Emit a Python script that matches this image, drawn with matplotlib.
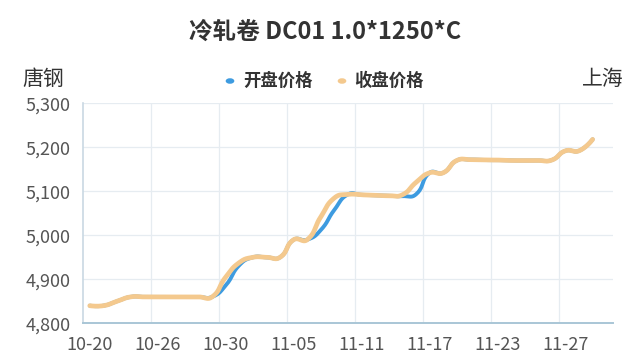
import numpy as np
import matplotlib
matplotlib.use("Agg")
import matplotlib.pyplot as plt
from matplotlib.ticker import FuncFormatter

plt.rcParams['font.family'] = ['Noto Sans CJK SC', 'DejaVu Sans']

# ---------------- data ----------------
title = "冷轧卷 DC01 1.0*1250*C"
left_label = "唐钢"
right_label = "上海"
series_names = ["开盘价格", "收盘价格"]
n_categories = 39
tick_positions = [0, 5, 10, 15, 20, 25, 30, 35]
tick_labels = ["10-20", "10-26", "10-30", "11-05", "11-11", "11-17", "11-23", "11-27"]

close_price = [4840, 4840, 4850, 4860, 4860, 4860, 4860, 4860, 4860, 4860,
               4905, 4938, 4950, 4950, 4950, 4990, 4990, 5042, 5085, 5093,
               5092, 5091, 5090, 5092, 5120, 5142, 5142, 5170, 5172, 5171,
               5171, 5170, 5170, 5170, 5171, 5192, 5192, 5218]
open_price = [4840, 4840, 4850, 4860, 4860, 4860, 4860, 4860, 4860, 4860,
              4886, 4932, 4950, 4950, 4950, 4990, 4990, 5012, 5058, 5093,
              5092, 5091, 5090, 5089, 5093, 5142, 5142, 5170, 5172, 5171,
              5171, 5170, 5170, 5170, 5171, 5192, 5192, 5218]
y_ticks = [4800, 4900, 5000, 5100, 5200, 5300]

colors = {"开盘价格": "#3D9BE0", "收盘价格": "#F4C98E"}

# ---------------- figure ----------------
W, H = 640, 364
fig = plt.figure(figsize=(W / 100, H / 100), dpi=100)
fig.patch.set_facecolor("white")
ax_l, ax_r, ax_t, ax_b = 83, 613, 103.3, 323.3
ax = fig.add_axes([ax_l / W, 1 - ax_b / H, (ax_r - ax_l) / W, (ax_b - ax_t) / H])

xmin, xmax = -0.5, n_categories - 0.5
ymin, ymax = 4800, 5300
ax.set_xlim(xmin, xmax)
ax.set_ylim(ymin, ymax)

# pixel scales for echarts-like smoothing
sx = (ax_r - ax_l) / (xmax - xmin)
sy = (ax_b - ax_t) / (ymax - ymin)


def smooth_curve(vals, smooth=0.5, steps=24):
    pts = np.array([[i * sx, v * sy] for i, v in enumerate(vals)], dtype=float)
    n = len(pts)
    cp_prev = [None] * n
    cp_next = [None] * n
    cp_prev[0] = cp_next[0] = pts[0].copy()
    cp_prev[-1] = cp_next[-1] = pts[-1].copy()
    for i in range(1, n - 1):
        p, a, b = pts[i], pts[i - 1], pts[i + 1]
        v = (b - a) * smooth
        d0 = np.hypot(*(p - a))
        d1 = np.hypot(*(p - b))
        s = d0 + d1
        if s:
            d0 /= s
            d1 /= s
        cp_prev[i] = p - v * d0
        cp_next[i] = p + v * d1
    xs, ys = [], []
    t = np.linspace(0, 1, steps)[:, None]
    for i in range(n - 1):
        P0, C0, C1, P1 = pts[i], cp_next[i], cp_prev[i + 1], pts[i + 1]
        seg = ((1 - t) ** 3) * P0 + 3 * ((1 - t) ** 2) * t * C0 + 3 * (1 - t) * t ** 2 * C1 + t ** 3 * P1
        if i > 0:
            seg = seg[1:]
        xs.extend(seg[:, 0] / sx)
        ys.extend(seg[:, 1] / sy)
    return np.array(xs), np.array(ys)


# grid
for yv in y_ticks[1:]:
    ax.axhline(yv, color="#E6ECF1", lw=0.9, zorder=0)
for k in tick_positions[1:]:
    ax.axvline(k - 0.5, color="#E6ECF1", lw=0.9, zorder=0)

xo, yo = smooth_curve(open_price)
xc, yc = smooth_curve(close_price)
ax.plot(xo, yo, color=colors["开盘价格"], lw=2.8, solid_capstyle="round", solid_joinstyle="round", zorder=3)
ax.plot(xc, yc, color=colors["收盘价格"], lw=3.4, solid_capstyle="round", solid_joinstyle="round", zorder=4)

for s in ["top", "right"]:
    ax.spines[s].set_visible(False)
ax.spines["left"].set_color("#C9D8E3")
ax.spines["left"].set_linewidth(1.2)
ax.spines["bottom"].set_color("#A9C6D6")
ax.spines["bottom"].set_linewidth(1.4)

ax.set_yticks(y_ticks)
ax.yaxis.set_major_formatter(FuncFormatter(lambda v, p: f"{int(v):,}"))
ax.set_xticks(tick_positions)
ax.set_xticklabels(tick_labels)
ax.tick_params(axis="both", length=0, labelsize=13, labelcolor="#555555")
ax.tick_params(axis="y", pad=9)
ax.tick_params(axis="x", pad=9)
ax.set_facecolor("white")

# title and side labels
fig.text(325 / W, 1 - 32 / H, title, ha="center", va="center", fontsize=17,
         fontweight="bold", color="#333333")
fig.text(22 / W, 1 - 79 / H, left_label, ha="left", va="center", fontsize=15, color="#333333")
fig.text(624 / W, 1 - 79 / H, right_label, ha="right", va="center", fontsize=15, color="#333333")

# legend
leg_items = [(230, 243, series_names[0]), (342, 354, series_names[1])]
for dot_x, text_x, name in leg_items:
    fig.patches.append(matplotlib.patches.Circle((dot_x / W, 1 - 81 / H), 3.6 / W,
                       transform=fig.transFigure, color=colors[name], zorder=5))
    fig.text(text_x / W, 1 - 81 / H, name, ha="left", va="center", fontsize=12.5,
             fontweight="bold", color="#333333")

fig.savefig("out.png", dpi=100, facecolor="white")
